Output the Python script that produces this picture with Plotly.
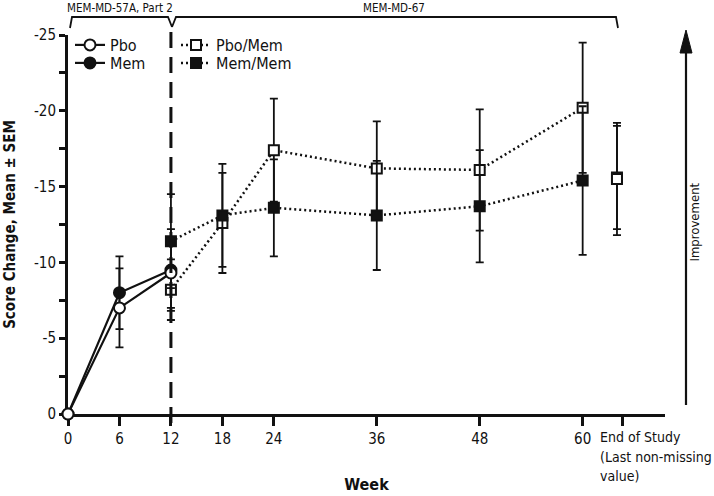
import plotly.graph_objects as go

# ---------------- data ----------------
weeks_db = [0, 6, 12]
pbo_mean = [0, -7.0, -9.3]
pbo_sem = [0, 2.6, 2.3]
mem_mean = [0, -8.0, -9.5]
mem_sem = [0, 2.4, 2.7]

weeks_ext = [12, 18, 24, 36, 48, 60]
pbomem_mean = [-8.2, -12.6, -17.4, -16.2, -16.1, -20.2]
pbomem_sem = [2.0, 3.3, 3.4, 3.1, 4.0, 4.3]
memmem_mean = [-11.4, -13.1, -13.6, -13.1, -13.7, -15.4]
memmem_sem = [3.1, 3.4, 3.2, 3.6, 3.7, 4.9]

eos_week = [64]
pbomem_eos_mean = [-15.5]
pbomem_eos_sem = [3.7]
memmem_eos_mean = [-15.6]
memmem_eos_sem = [3.4]

x_tickvals = [0, 6, 12, 18, 24, 36, 48, 60, 64.7]
x_ticktext = ["0", "6", "12", "18", "24", "36", "48", "60", ""]
y_tickvals = [0, -2.5, -5, -7.5, -10, -12.5, -15, -17.5, -20, -22.5, -25]
y_ticktext = ["0", "", "-5", "", "-10", "", "-15", "", "-20", "", "-25"]
eos_label = ["End of Study", "(Last non-missing", "value)"]
study_labels = ["MEM-MD-57A, Part 2", "MEM-MD-67"]

FONT = "DejaVu Sans Condensed, Liberation Sans Narrow, sans-serif"
BLACK = "#111111"

# plot area geometry (px)
L, R, T, B = 68, 49, 35, 82
W, H = 714, 496
PW, PH = W - L - R, H - T - B


def px(x):
    return (x - L) / PW


def py(y):
    return (H - B - y) / PH


def err(arr):
    return dict(type="data", array=arr, visible=True, color=BLACK,
                thickness=1.8, width=4)


fig = go.Figure()

fig.add_trace(go.Scatter(
    x=weeks_ext, y=pbomem_mean, mode="lines+markers", name="Pbo/Mem",
    line=dict(color=BLACK, width=2.5, dash="2px,3px"),
    marker=dict(symbol="square", size=10, color="white", line=dict(color=BLACK, width=2)),
    error_y=err(pbomem_sem), cliponaxis=False, legend="legend3"))
fig.add_trace(go.Scatter(
    x=weeks_ext, y=memmem_mean, mode="lines+markers", name="Mem/Mem",
    line=dict(color=BLACK, width=2.5, dash="2px,3px"),
    marker=dict(symbol="square", size=10, color=BLACK, line=dict(color=BLACK, width=2)),
    error_y=err(memmem_sem), cliponaxis=False, legend="legend4"))
fig.add_trace(go.Scatter(
    x=eos_week, y=memmem_eos_mean, mode="markers", name="Mem/Mem EoS", showlegend=False,
    marker=dict(symbol="square", size=10, color=BLACK, line=dict(color=BLACK, width=2)),
    error_y=err(memmem_eos_sem), cliponaxis=False))
fig.add_trace(go.Scatter(
    x=eos_week, y=pbomem_eos_mean, mode="markers", name="Pbo/Mem EoS", showlegend=False,
    marker=dict(symbol="square", size=10, color="white", line=dict(color=BLACK, width=2)),
    error_y=err(pbomem_eos_sem), cliponaxis=False))
fig.add_trace(go.Scatter(
    x=weeks_db, y=mem_mean, mode="lines+markers", name="Mem",
    line=dict(color=BLACK, width=2.2),
    marker=dict(symbol="circle", size=11, color=BLACK, line=dict(color=BLACK, width=2)),
    error_y=err(mem_sem), cliponaxis=False, legend="legend2"))
fig.add_trace(go.Scatter(
    x=weeks_db, y=pbo_mean, mode="lines+markers", name="Pbo",
    line=dict(color=BLACK, width=2.2),
    marker=dict(symbol="circle", size=11, color="white", line=dict(color=BLACK, width=2)),
    error_y=err(pbo_sem), cliponaxis=False, legend="legend"))

leg_common = dict(bgcolor="rgba(0,0,0,0)", font=dict(family=FONT, size=16, color=BLACK),
                  xanchor="left", yanchor="middle", borderwidth=0)

shapes = [
    # vertical dashed separator at week 12
    dict(type="line", xref="x", yref="paper", x0=12, x1=12, y0=py(423), y1=py(27),
         line=dict(color=BLACK, width=3, dash="16px,9px")),
    # bracket 1
    dict(type="path", xref="paper", yref="paper",
         path=f"M {px(70)},{py(28)} L {px(72)},{py(17)} L {px(168)},{py(17)} L {px(172)},{py(27)}",
         line=dict(color=BLACK, width=1.8)),
    # bracket 2
    dict(type="path", xref="paper", yref="paper",
         path=f"M {px(172)},{py(27)} L {px(176)},{py(17)} L {px(616)},{py(17)} L {px(618)},{py(28)}",
         line=dict(color=BLACK, width=1.8)),
    # improvement arrow shaft
    dict(type="line", xref="paper", yref="paper", x0=px(686), x1=px(686), y0=py(405), y1=py(50),
         line=dict(color=BLACK, width=2.2)),
    # arrow head
    dict(type="path", xref="paper", yref="paper",
         path=f"M {px(680)},{py(53)} L {px(686)},{py(30)} L {px(692)},{py(53)} Z",
         fillcolor=BLACK, line=dict(color=BLACK, width=1)),
]

annotations = [
    dict(text=study_labels[0], xref="paper", yref="paper", x=px(120), y=py(7.5),
         xanchor="center", yanchor="middle",
         showarrow=False, font=dict(family=FONT, size=11.5, color=BLACK)),
    dict(text=study_labels[1], xref="paper", yref="paper", x=px(394), y=py(7.5),
         xanchor="center", yanchor="middle",
         showarrow=False, font=dict(family=FONT, size=11.5, color=BLACK)),
    dict(text="Improvement", xref="paper", yref="paper", x=px(703), y=py(222),
         textangle=-90, showarrow=False, font=dict(family=FONT, size=13, color=BLACK)),
]
for i, line in enumerate(eos_label):
    annotations.append(dict(text=line, xref="paper", yref="paper", x=px(598), y=py(437 + 19.5 * i),
                            xanchor="left", yanchor="middle", showarrow=False,
                            font=dict(family=FONT, size=14, color=BLACK)))

fig.update_layout(
    width=W, height=H, margin=dict(l=L, r=R, t=T, b=B, autoexpand=False),
    paper_bgcolor="white", plot_bgcolor="white",
    font=dict(family=FONT, size=15, color=BLACK),
    legend=dict(x=px(70), y=py(45), **leg_common),
    legend2=dict(x=px(70), y=py(63), **leg_common),
    legend3=dict(x=px(176), y=py(45), **leg_common),
    legend4=dict(x=px(176), y=py(63), **leg_common),
    shapes=shapes, annotations=annotations,
    xaxis=dict(range=[0, 69.6], tickvals=x_tickvals, ticktext=x_ticktext, automargin=False,
               showgrid=False, zeroline=False, showline=True, linecolor=BLACK, linewidth=3,
               ticks="outside", ticklen=9, tickwidth=3, tickcolor=BLACK, layer="below traces",
               tickfont=dict(family=FONT, size=15, color=BLACK),
               title=dict(text="<b>Week</b>", standoff=32, font=dict(family=FONT, size=16, color=BLACK))),
    yaxis=dict(range=[0, -25], tickvals=y_tickvals, ticktext=y_ticktext, automargin=False,
               showgrid=False, zeroline=False, showline=True, linecolor=BLACK, linewidth=3,
               ticks="outside", ticklen=6, tickwidth=2.5, tickcolor=BLACK, layer="below traces",
               tickfont=dict(family=FONT, size=15, color=BLACK),
               title=dict(text="<b>Score Change, Mean ± SEM</b>", standoff=15,
                          font=dict(family=FONT, size=15, color=BLACK))),
)

fig.write_html("out.html", config={"displayModeBar": False},
               post_script="document.body.style.margin='0';document.body.style.overflow='hidden';")
